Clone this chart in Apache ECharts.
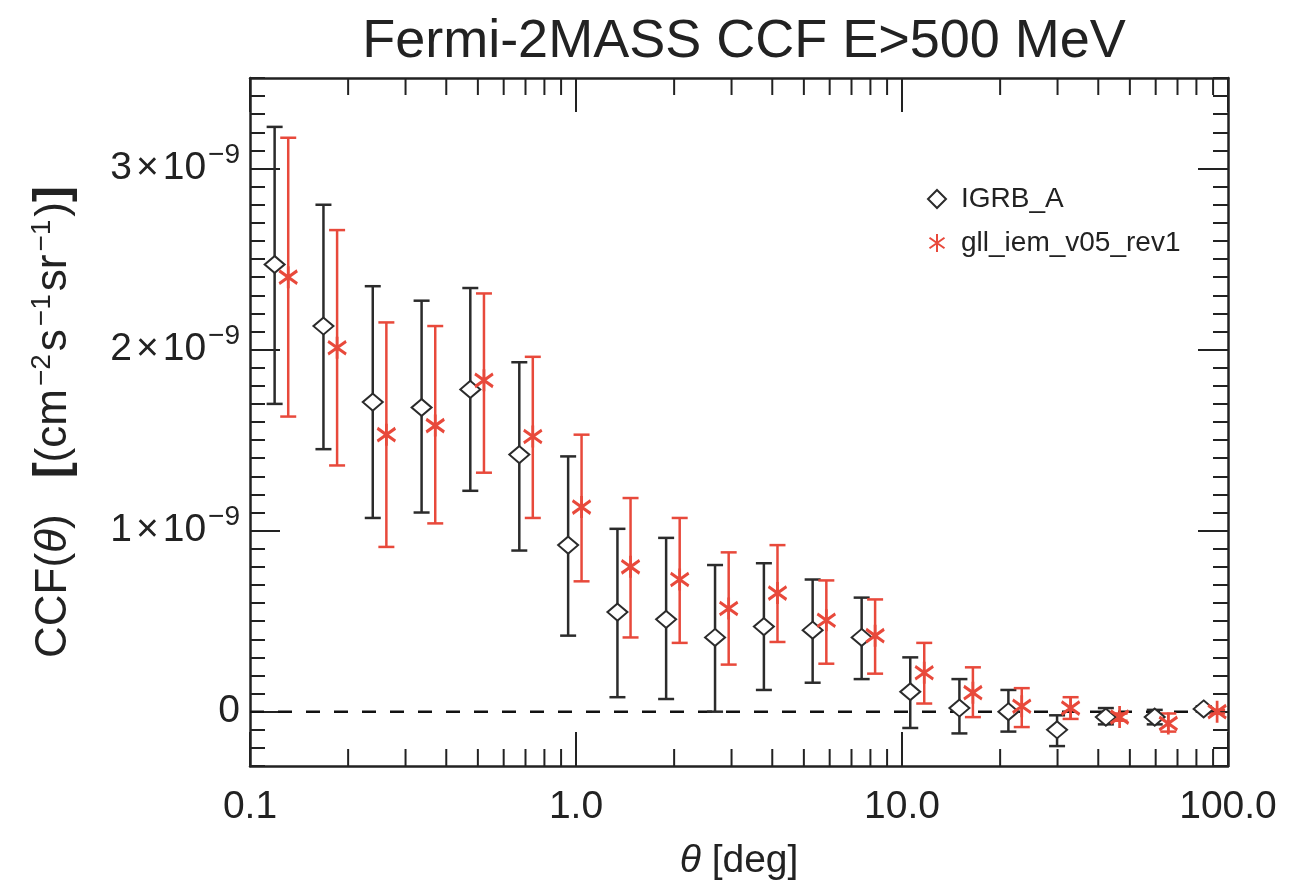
<!DOCTYPE html>
<html>
<head>
<meta charset="utf-8">
<script src="https://cdn.jsdelivr.net/npm/echarts@6/dist/echarts.min.js"></script>
<style>
  html, body { margin: 0; padding: 0; background: #fff; }
  #chart { width: 1302px; height: 886px; }
</style>
</head>
<body>
<div id="chart"></div>
<script>
// CCF values are in units of 1e-9 cm^-2 s^-1 sr^-1
const thetaIgrb = [0.119, 0.168, 0.238, 0.336, 0.474, 0.670, 0.946, 1.34, 1.89, 2.67, 3.77, 5.32, 7.52, 10.6, 15.0, 21.2, 29.9, 42.2, 59.6, 84.2]
const ccfIgrb = [2.47, 2.13, 1.71, 1.68, 1.78, 1.42, 0.92, 0.55, 0.51, 0.41, 0.47, 0.45, 0.41, 0.11, 0.02, 0.00, -0.10, -0.03, -0.03, 0.015]
const lowIgrb = [1.70, 1.45, 1.07, 1.10, 1.22, 0.89, 0.42, 0.08, 0.07, 0.00, 0.12, 0.16, 0.18, -0.09, -0.12, -0.11, -0.19, -0.07, -0.07, 0.00]
const highIgrb = [3.23, 2.80, 2.35, 2.27, 2.34, 1.93, 1.41, 1.01, 0.96, 0.81, 0.82, 0.73, 0.63, 0.30, 0.18, 0.12, -0.02, 0.02, 0.01, 0.03]

const thetaGll = [0.131, 0.185, 0.262, 0.370, 0.522, 0.737, 1.04, 1.47, 2.08, 2.94, 4.15, 5.86, 8.27, 11.7, 16.5, 23.3, 32.9, 46.5, 65.6, 92.6]
const ccfGll = [2.40, 2.01, 1.53, 1.58, 1.83, 1.52, 1.13, 0.80, 0.73, 0.57, 0.655, 0.505, 0.42, 0.215, 0.105, 0.03, 0.02, -0.03, -0.065, 0.00]
const lowGll = [1.63, 1.36, 0.91, 1.04, 1.32, 1.07, 0.72, 0.41, 0.38, 0.26, 0.385, 0.265, 0.21, 0.045, -0.03, -0.085, -0.04, -0.05, -0.11, -0.01]
const highGll = [3.17, 2.66, 2.15, 2.13, 2.31, 1.96, 1.53, 1.18, 1.07, 0.88, 0.92, 0.725, 0.62, 0.38, 0.245, 0.13, 0.08, -0.01, -0.01, 0.01]

const xMajorTicks = [0.1, 1, 10, 100]
const xMinorTicks = [0.2, 0.3, 0.4, 0.5, 0.6, 0.7, 0.8, 0.9, 2, 3, 4, 5, 6, 7, 8, 9, 20, 30, 40, 50, 60, 70, 80, 90]
const yMajorTicks = [0, 1, 2, 3]
const Y_MIN = -0.3
const Y_MAX = 3.5

const FONT = "'Liberation Sans', Arial, sans-serif"
const INK = '#222'
const RED = '#e8493b'
const GRID = { left: 250, right: 74, top: 78, bottom: 120, containLabel: false, outerBoundsMode: 'none' }

const chart = echarts.init(document.getElementById('chart'))

function errorBars(color) {
  return function (params, api) {
    const x = api.value(0)
    const lo = api.coord([x, api.value(1)])
    const hi = api.coord([x, api.value(2)])
    const style = { stroke: color, lineWidth: 2.5 }
    const cap = 8
    return {
      type: 'group',
      children: [
        { type: 'line', shape: { x1: lo[0], y1: lo[1], x2: hi[0], y2: hi[1] }, style },
        { type: 'line', shape: { x1: lo[0] - cap, y1: lo[1], x2: lo[0] + cap, y2: lo[1] }, style },
        { type: 'line', shape: { x1: hi[0] - cap, y1: hi[1], x2: hi[0] + cap, y2: hi[1] }, style },
      ],
    }
  }
}

function xAxisBase(gridIndex, position) {
  return {
    type: 'log', logBase: 10, min: 0.1, max: 100, gridIndex, position,
    splitLine: { show: false },
    axisLine: { show: false, onZero: false },
    axisTick: { show: false },
    axisLabel: { show: false },
  }
}

function yAxisBase(gridIndex, position) {
  return {
    type: 'value', min: Y_MIN, max: Y_MAX, gridIndex, position,
    splitLine: { show: false },
    axisLine: { show: false, onZero: false },
    axisTick: { show: false },
    axisLabel: { show: false },
  }
}

const frameLine = { show: true, onZero: false, lineStyle: { color: INK, width: 2.5 } }
const majorTickX = { show: true, inside: true, length: 34, customValues: xMajorTicks, lineStyle: { color: INK, width: 2 } }
const majorTickY = { show: true, inside: true, length: 30, customValues: yMajorTicks, lineStyle: { color: INK, width: 2 } }
const minorTickY = { show: true, inside: true, length: 15, lineStyle: { color: INK, width: 2 } }

const yLabelRich = {
  b: { fontFamily: FONT, fontSize: 39, color: INK, lineHeight: 54 },
  x: { fontFamily: FONT, fontSize: 39, color: INK, lineHeight: 54, padding: [0, 4, 0, 4] },
  s: { fontFamily: FONT, fontSize: 28, color: INK, lineHeight: 28, verticalAlign: 'top', padding: [0, 0, 0, 2] },
}

chart.setOption({
  animation: false,
  backgroundColor: '#fff',
  title: {
    text: 'Fermi-2MASS CCF E>500 MeV',
    left: 739, top: 10, textAlign: 'center',
    textStyle: { fontFamily: FONT, fontSize: 54, fontWeight: 'normal', color: INK },
  },
  legend: {
    data: ['IGRB_A', 'gll_iem_v05_rev1'],
    orient: 'vertical', left: 922, top: 180,
    itemWidth: 18, itemHeight: 18, itemGap: 16,
    textStyle: { fontFamily: FONT, fontSize: 28, color: INK, padding: [0, 0, 0, 10] },
  },
  grid: [GRID, GRID],
  xAxis: [
    Object.assign(xAxisBase(0, 'bottom'), {
      axisLine: frameLine,
      axisTick: majorTickX,
      axisLabel: {
        show: true, margin: 22, customValues: xMajorTicks,
        fontFamily: FONT, fontSize: 39, color: INK,
        formatter: v => (v < 0.5 ? '0.1' : Number(v).toFixed(1)),
      },
      name: '{i|θ} [deg]', nameLocation: 'middle', nameGap: 76,
      nameTextStyle: {
        fontFamily: FONT, fontSize: 39, color: INK,
        rich: { i: { fontFamily: FONT, fontSize: 39, fontStyle: 'italic', color: INK } },
      },
    }),
    Object.assign(xAxisBase(0, 'top'), { axisLine: frameLine, axisTick: majorTickX }),
    xAxisBase(1, 'bottom'),
  ],
  yAxis: [
    Object.assign(yAxisBase(0, 'left'), {
      axisLine: frameLine,
      axisTick: majorTickY,
      axisLabel: {
        show: true, margin: 10, customValues: yMajorTicks,
        formatter: v => (v === 0 ? '{b|0}' : '{b|' + v + '}{x|×}{b|10}{s|−9}'),
        rich: yLabelRich,
      },
      name: '{t|CCF(}{i|θ}{t|)}{gap|}{br|[}{t|(cm}{s|−2}{t|s}{s|−1}{t|sr}{s|−1}{t|)}{br|]}',
      nameLocation: 'middle', nameRotate: 90, nameGap: 170,
      nameTextStyle: {
        rich: {
          t: { fontFamily: FONT, fontSize: 44, color: INK, lineHeight: 52 },
          i: { fontFamily: FONT, fontSize: 44, fontStyle: 'italic', color: INK, lineHeight: 52 },
          br: { fontFamily: FONT, fontSize: 48, fontWeight: 'bold', color: INK, lineHeight: 52 },
          s: { fontFamily: FONT, fontSize: 28, color: INK, lineHeight: 26, verticalAlign: 'top', padding: [0, 3, 0, 3] },
          gap: { width: 36 },
        },
      },
    }),
    Object.assign(yAxisBase(0, 'right'), { axisLine: frameLine, axisTick: majorTickY }),
    Object.assign(yAxisBase(1, 'left'), { interval: 0.1, axisTick: minorTickY }),
    Object.assign(yAxisBase(1, 'right'), { interval: 0.1, axisTick: minorTickY }),
  ],
  series: [
    {
      name: 'zero',
      type: 'line',
      xAxisIndex: 0, yAxisIndex: 0,
      data: [[0.1, 0], [100, 0]],
      symbol: 'none',
      lineStyle: { color: '#111', width: 2.5, type: [14, 14] },
      z: 1,
    },
    {
      name: 'IGRB_A err',
      type: 'custom',
      xAxisIndex: 0, yAxisIndex: 0,
      renderItem: errorBars('#2b2b2b'),
      encode: { x: 0, y: [1, 2] },
      data: thetaIgrb.map((t, i) => [t, lowIgrb[i], highIgrb[i]]),
      z: 2,
    },
    {
      name: 'gll err',
      type: 'custom',
      xAxisIndex: 0, yAxisIndex: 0,
      renderItem: errorBars(RED),
      encode: { x: 0, y: [1, 2] },
      data: thetaGll.map((t, i) => [t, lowGll[i], highGll[i]]),
      z: 2,
    },
    {
      name: 'IGRB_A',
      type: 'scatter',
      xAxisIndex: 0, yAxisIndex: 0,
      data: thetaIgrb.map((t, i) => [t, ccfIgrb[i]]),
      symbol: 'emptyDiamond',
      symbolSize: [20, 17],
      itemStyle: { color: '#2b2b2b', borderColor: '#2b2b2b', borderWidth: 2.5, opacity: 1 },
      z: 3,
    },
    {
      name: 'gll_iem_v05_rev1',
      type: 'scatter',
      xAxisIndex: 0, yAxisIndex: 0,
      data: thetaGll.map((t, i) => [t, ccfGll[i]]),
      symbol: 'path://M10,0L10,24M0,5L20,19M0,19L20,5',
      symbolSize: [18, 22],
      itemStyle: { color: RED, borderColor: RED, borderWidth: 3, opacity: 1 },
      z: 3,
    },
  ],
})

// log minor ticks (2..9 per decade) on the bottom and top frame,
// placed through the x axis scale once the chart is laid out
const yBottom = chart.convertToPixel({ yAxisIndex: 0 }, Y_MIN)
const yTop = chart.convertToPixel({ yAxisIndex: 0 }, Y_MAX)
const tickLen = 17
const minorTickLines = []
xMinorTicks.forEach(v => {
  const x = chart.convertToPixel({ xAxisIndex: 0 }, v)
  minorTickLines.push(
    { type: 'line', shape: { x1: x, y1: yBottom, x2: x, y2: yBottom - tickLen }, style: { stroke: INK, lineWidth: 2 }, z: 100, silent: true },
    { type: 'line', shape: { x1: x, y1: yTop, x2: x, y2: yTop + tickLen }, style: { stroke: INK, lineWidth: 2 }, z: 100, silent: true },
  )
})
chart.setOption({ graphic: minorTickLines })
</script>
</body>
</html>
